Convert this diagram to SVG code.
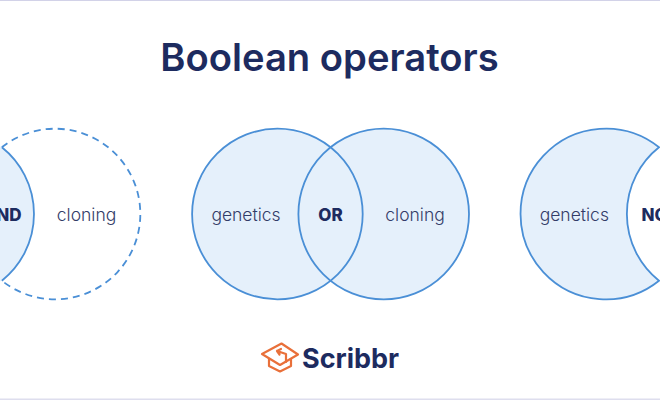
<svg xmlns="http://www.w3.org/2000/svg" width="660" height="400" viewBox="0 0 660 400">
<style>
.t{font-family:Inter,"Liberation Sans",sans-serif;font-size:38.200px;font-weight:600;fill:#1d2b5f;text-anchor:middle}
.l{font-family:Inter,"Liberation Sans",sans-serif;font-size:17.500px;font-weight:350;fill:#333c68;text-anchor:middle}
.b{font-family:Inter,"Liberation Sans",sans-serif;font-size:17px;font-weight:800;fill:#1d2b5f;text-anchor:middle}
.c{fill:none;stroke:#4a8fd6;stroke-width:1.800}
.f{fill:#e5f0fb;stroke:none}
</style>
<rect width="660" height="400" fill="#ffffff"/>
<rect width="660" height="1" fill="#d2d2e8"/>
<rect y="398.500" width="660" height="1.500" fill="#dedeee"/>
<text class="t" x="329.500" y="71">Boolean operators</text>
<g id="and-diagram">
<path class="f" d="M0 146.600A85.300 85.300 0 0 1 1.850 147.300A85.300 85.300 0 0 1 1.850 280.700A85.300 85.300 0 0 1 0 281.400Z"/>
<path class="c" d="M1.850 147.300A85.300 85.300 0 0 1 1.850 280.700"/>
<path class="c" stroke-dasharray="7 5" d="M1.850 147.300A85.300 85.300 0 1 1 1.850 280.700"/>
<text class="b" x="21.500" y="221" style="text-anchor:end">AND</text>
<text class="l" x="86.500" y="221">cloning</text>
</g>
<g id="or-diagram">
<circle class="f" cx="277.400" cy="214" r="85.300"/>
<circle class="f" cx="383.700" cy="214" r="85.300"/>
<circle class="c" cx="277.400" cy="214" r="85.300"/>
<circle class="c" cx="383.700" cy="214" r="85.300"/>
<text class="l" x="246" y="221">genetics</text>
<text class="b" x="330.500" y="221">OR</text>
<text class="l" x="415" y="221">cloning</text>
</g>
<g id="not-diagram">
<path class="f" d="M659 147.300A85.300 85.300 0 1 0 659 280.700A85.300 85.300 0 0 1 659 147.300Z"/>
<path class="c" d="M659 147.300A85.300 85.300 0 1 0 659 280.700A85.300 85.300 0 0 1 659 147.300Z"/>
<text class="l" x="574.300" y="221">genetics</text>
<text class="b" x="641.500" y="221" style="text-anchor:start">NOT</text>
</g>
<g id="scribbr-logo">
<g fill="none" stroke="#e9703a" stroke-width="2.200" stroke-linejoin="round" stroke-linecap="round">
<path d="M262 354L281.500 343.500L298 354.500L280 365Z"/>
<path d="M269 359V366L280 371.500L291 366V359"/>
<path d="M277 351L286 354V362M277 351L281 349M277 351L279.500 354.500"/>
</g>
<text x="302" y="367.500" style="font-family:Inter,'Liberation Sans',sans-serif;font-size:27px;font-weight:700;fill:#1d2b5f">Scribbr</text>
</g>
</svg>
